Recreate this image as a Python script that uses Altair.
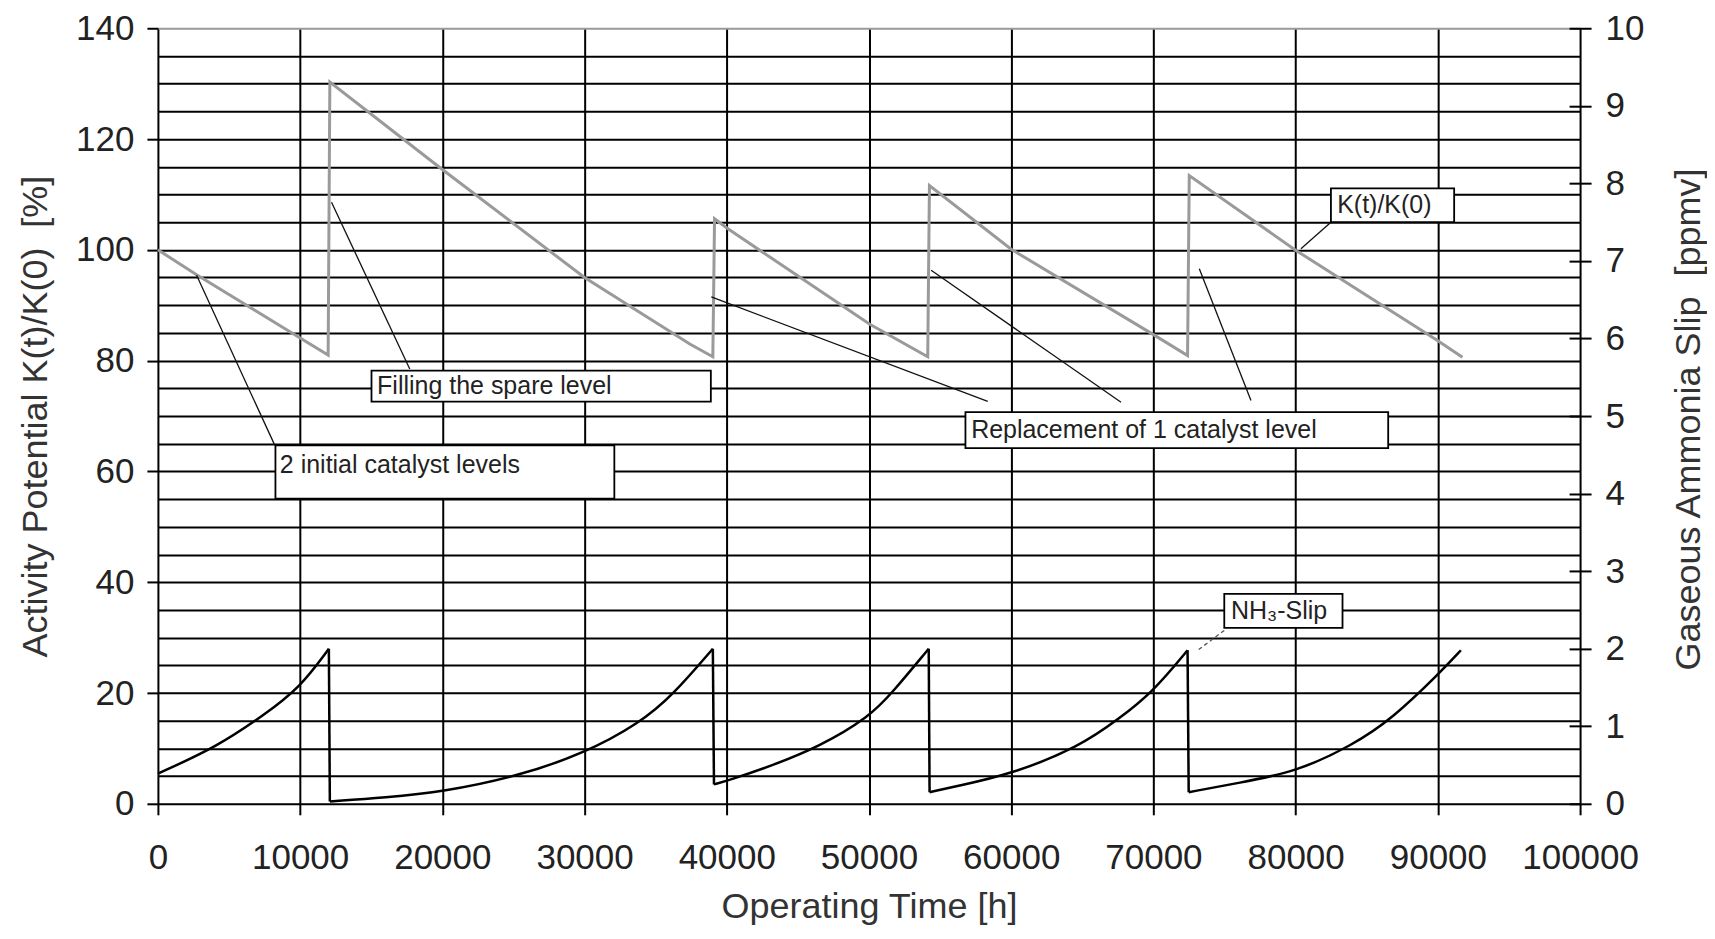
import altair as alt
import pandas as pd

# ---------------- data ----------------
# Activity potential K(t)/K(0) [%]  (left axis)
k_time = [0, 2720, 10000, 11970, 12090, 20000, 30000, 37400, 39020, 39140, 40080,
          50030, 54130, 54250, 60000, 70060, 72400, 72520, 80020, 90000, 91730]
k_value = [100.0, 95.5, 84.1, 81.0, 130.3, 114.5, 95.0, 83.0, 80.7, 105.6, 103.8,
           86.6, 80.7, 111.6, 100.1, 84.6, 80.9, 113.4, 99.9, 83.6, 80.6]

# Gaseous NH3 slip [ppmv]  (right axis)
nh3_time = [0, 4120, 7500, 10000, 12020,
            12090, 16000, 20050, 25200, 30000, 33870, 36200, 39020,
            39100, 40080, 43000, 46500, 50030, 51670, 54200,
            54260, 56000, 60000, 64800, 67600, 69950, 72400,
            72480, 76000, 80020, 84000, 86800, 90090, 91620]
nh3_ppmv = [0.39, 0.73, 1.15, 1.50, 2.00,
            0.03, 0.08, 0.155, 0.35, 0.65, 1.04, 1.40, 2.00,
            0.25, 0.30, 0.48, 0.735, 1.12, 1.44, 2.00,
            0.15, 0.22, 0.38, 0.735, 1.10, 1.44, 1.98,
            0.15, 0.27, 0.41, 0.755, 1.10, 1.68, 1.98]
nh3_cycle = [1, 1, 1, 1, 1,
             2, 2, 2, 2, 2, 2, 2, 2,
             3, 3, 3, 3, 3, 3, 3,
             4, 4, 4, 4, 4, 4, 4,
             5, 5, 5, 5, 5, 5, 5]

# Annotation boxes (time [h], left-axis units)
box_labels = ["Filling the spare level", "2 initial catalyst levels",
              "Replacement of 1 catalyst level", "K(t)/K(0)", "NH\u2083-Slip"]
box_t1 = [15018, 8264, 56782, 82481, 74982]
box_t2 = [38880, 32094, 86508, 91146, 83296]
box_v1 = [72.6, 55.1, 64.2, 105.0, 31.75]
box_v2 = [78.2, 64.7, 70.7, 111.1, 37.9]
text_t = [15411, 8573, 57182, 82923, 75453]
text_v = [75.4, 61.2, 67.5, 108.1, 34.85]

# Leader lines
leader_t1 = [17709, 8222, 58349, 67723, 76859, 82481]
leader_v1 = [78.5, 64.7, 72.65, 72.5, 72.8, 105.0]
leader_t2 = [12207, 2720, 38911, 54371, 73226, 80372]
leader_v2 = [108.6, 95.4, 91.5, 96.3, 96.6, 100.2]
nh3_leader_t = [74982, 73106]
nh3_leader_v = [31.3, 27.7]

x_ticks = list(range(0, 100001, 10000))
left_ticks = list(range(0, 141, 5))
right_ticks = list(range(0, 11))

# ---------------- tables ----------------
k_df = pd.DataFrame({"t": k_time, "v": k_value})

rise_rows = []
for t, p, c in zip(nh3_time, nh3_ppmv, nh3_cycle):
    rise_rows.append({"t": t, "p": p, "series": f"rise{c}"})
drop_rows = []
for i in range(len(nh3_time) - 1):
    if nh3_cycle[i] != nh3_cycle[i + 1]:
        drop_rows.append({"t": nh3_time[i], "p": nh3_ppmv[i], "series": f"drop{i}"})
        drop_rows.append({"t": nh3_time[i + 1], "p": nh3_ppmv[i + 1], "series": f"drop{i}"})
rise_df = pd.DataFrame(rise_rows)
drop_df = pd.DataFrame(drop_rows)

box_df = pd.DataFrame({"label": box_labels, "bt1": box_t1, "bt2": box_t2,
                       "bv1": box_v1, "bv2": box_v2, "lt": text_t, "lv": text_v})
lead_df = pd.DataFrame({"t1": leader_t1, "t2": leader_t2, "v1": leader_v1, "v2": leader_v2})
nh3_lead_df = pd.DataFrame({"t1": [nh3_leader_t[0]], "t2": [nh3_leader_t[1]],
                            "v1": [nh3_leader_v[0]], "v2": [nh3_leader_v[1]]})

FONT = "Liberation Sans"

x_scale = alt.Scale(domain=[0, 100000], nice=False)
left_scale = alt.Scale(domain=[0, 140], nice=False)
right_scale = alt.Scale(domain=[0, 10], nice=False)

x_axis = alt.Axis(values=x_ticks, format="d", grid=True, gridColor="#000000", gridWidth=2,
                  domain=False, tickSize=11, tickWidth=2, tickColor="#000000",
                  labelFontSize=35, labelColor="#222222", labelPadding=26, labelFlush=False,
                  labelOverlap=False, labelFont=FONT,
                  title="Operating Time [h]", titleFont=FONT, titleFontSize=36,
                  titleFontWeight="normal", titleColor="#333333",
                  titleX=711.5, titleY=114, titleAlign="center", titleBaseline="alphabetic")

left_axis = alt.Axis(values=left_ticks, format="d",
                     labelExpr="datum.value % 20 === 0 ? datum.label : ''",
                     grid=True,
                     gridColor={"condition": {"test": "datum.value === 140", "value": "#9a9a9a"},
                                "value": "#000000"},
                     gridWidth=2, domain=False, tickSize=11, tickWidth=2, tickColor="#000000",
                     tickOpacity={"condition": {"test": "datum.value % 20 === 0", "value": 1},
                                  "value": 0},
                     labelFontSize=35, labelColor="#222222", labelPadding=13, labelFlush=False,
                     labelOverlap=False, labelFont=FONT,
                     title="Activity Potential K(t)/K(0)\u00a0 [%]", titleFont=FONT,
                     titleFontSize=36, titleFontWeight="normal", titleColor="#333333",
                     titleAngle=270, titleX=-111, titleY=388, titleAlign="center",
                     titleBaseline="alphabetic")

right_axis = alt.Axis(orient="right", values=right_ticks, format="d", grid=False, domain=False,
                      offset=-11, tickSize=22, tickWidth=2, tickColor="#000000",
                      labelFontSize=35, labelColor="#222222", labelPadding=14, labelFlush=False,
                      labelOverlap=False, labelFont=FONT,
                      title="Gaseous Ammonia Slip\u00a0 [ppmv]", titleFont=FONT,
                      titleFontSize=36, titleFontWeight="normal", titleColor="#333333",
                      titleAngle=270, titleX=130, titleY=391, titleAlign="center",
                      titleBaseline="alphabetic")

k_line = alt.Chart(k_df).mark_line(color="#9a9a9a", strokeWidth=3).encode(
    x=alt.X("t:Q", scale=x_scale, axis=x_axis),
    y=alt.Y("v:Q", scale=left_scale, axis=left_axis),
)

leaders = alt.Chart(lead_df).mark_rule(color="#111111", strokeWidth=1.3).encode(
    x=alt.X("t1:Q", scale=x_scale, axis=x_axis), x2="t2:Q",
    y=alt.Y("v1:Q", scale=left_scale, axis=left_axis), y2="v2:Q",
)

nh3_leader = alt.Chart(nh3_lead_df).mark_rule(color="#555555", strokeWidth=1.3,
                                               strokeDash=[4, 3]).encode(
    x=alt.X("t1:Q", scale=x_scale, axis=x_axis), x2="t2:Q",
    y=alt.Y("v1:Q", scale=left_scale, axis=left_axis), y2="v2:Q",
)

boxes = alt.Chart(box_df).mark_rect(fill="white", stroke="#000000", strokeWidth=1.8).encode(
    x=alt.X("bt1:Q", scale=x_scale, axis=x_axis), x2="bt2:Q",
    y=alt.Y("bv1:Q", scale=left_scale, axis=left_axis), y2="bv2:Q",
)

texts = alt.Chart(box_df).mark_text(align="left", baseline="middle", fontSize=25,
                                    font=FONT, color="#222222").encode(
    x=alt.X("lt:Q", scale=x_scale, axis=x_axis),
    y=alt.Y("lv:Q", scale=left_scale, axis=left_axis),
    text="label:N",
)

left_layer = alt.layer(k_line, leaders, nh3_leader, boxes, texts)

nh3_rise = alt.Chart(rise_df).mark_line(color="#000000", strokeWidth=2.5,
                                        interpolate="basis").encode(
    x=alt.X("t:Q", scale=x_scale, axis=x_axis),
    y=alt.Y("p:Q", scale=right_scale, axis=right_axis),
    detail="series:N",
)
nh3_drop = alt.Chart(drop_df).mark_line(color="#000000", strokeWidth=2.5).encode(
    x=alt.X("t:Q", scale=x_scale, axis=x_axis),
    y=alt.Y("p:Q", scale=right_scale, axis=right_axis),
    detail="series:N",
)
right_layer = alt.layer(nh3_rise, nh3_drop)

chart = alt.layer(left_layer, right_layer).resolve_scale(y="independent").properties(
    width=1423, height=776,
    padding={"left": 150, "top": 20, "right": 127, "bottom": 122},
    autosize=alt.AutoSizeParams(type="none"),
    background="white",
).configure_view(strokeWidth=0).configure(font=FONT)

chart.save("out.html", embed_options={"renderer": "svg", "actions": False})
